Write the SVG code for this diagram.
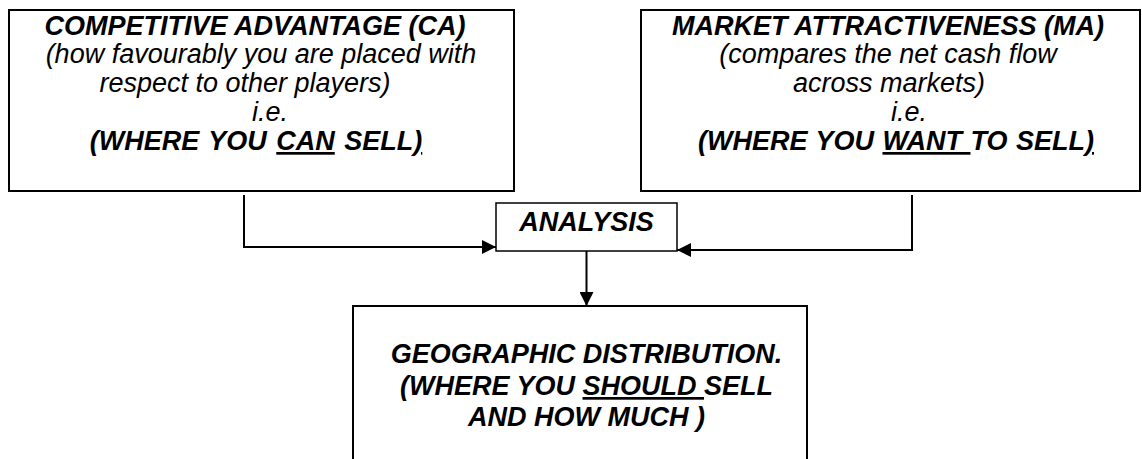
<svg xmlns="http://www.w3.org/2000/svg" width="1142" height="459" viewBox="0 0 1142 459">
  <style>
    .box { fill: #ffffff; stroke: #000000; stroke-width: 2; }
    .small { stroke-width: 1.5; }
    .title { font-family: "Liberation Sans", Arial, sans-serif; font-size: 27px; font-weight: bold; font-style: italic; fill: #000; text-anchor: middle; }
    .desc { font-family: "Liberation Sans", Arial, sans-serif; font-size: 27px; font-style: italic; fill: #000; text-anchor: middle; }
    .u { text-decoration: underline; text-decoration-thickness: 2px; text-underline-offset: 5px; }
    .link { fill: none; stroke: #000000; stroke-width: 2; }
  </style>
  <defs>
    <marker id="head" markerUnits="userSpaceOnUse" markerWidth="15" markerHeight="14" refX="14" refY="7" orient="auto">
      <path d="M0,0 L14,7 L0,14 Z" fill="#000000"/>
    </marker>
  </defs>

  <!-- Competitive advantage -->
  <g id="ca">
    <rect class="box" x="9" y="10" width="505" height="181"/>
    <text class="title" x="255" y="35">COMPETITIVE ADVANTAGE (CA)</text>
    <text class="desc" x="261" y="63">(how favourably you are placed with</text>
    <text class="desc" x="245" y="92">respect to other players)</text>
    <text class="desc" x="270" y="121">i.e.</text>
    <text class="title" x="256" y="150" word-spacing="2">(WHERE YOU <tspan class="u">CAN</tspan> SELL<tspan class="u">)</tspan></text>
  </g>

  <!-- Market attractiveness -->
  <g id="ma">
    <rect class="box" x="641" y="10" width="499" height="181"/>
    <text class="title" x="888" y="35">MARKET ATTRACTIVENESS (MA)</text>
    <text class="desc" x="888" y="63">(compares the net cash flow</text>
    <text class="desc" x="889" y="92">across markets)</text>
    <text class="desc" x="909" y="121">i.e.</text>
    <text class="title" x="896" y="150" word-spacing="1">(WHERE YOU <tspan class="u">WANT </tspan>TO SELL<tspan class="u">)</tspan></text>
  </g>

  <!-- Analysis -->
  <g id="analysis">
    <rect class="box small" x="496" y="203" width="181" height="48"/>
    <text class="title" x="586.5" y="231">ANALYSIS</text>
  </g>

  <!-- Geographic distribution -->
  <g id="geo">
    <rect class="box" x="353" y="306" width="454" height="170"/>
    <text class="title" x="586.5" y="363">GEOGRAPHIC DISTRIBUTION.</text>
    <text class="title" x="586.5" y="395">(WHERE YOU <tspan class="u">SHOULD </tspan>SELL</text>
    <text class="title" x="586.5" y="426">AND HOW MUCH )</text>
  </g>

  <!-- Connectors -->
  <g id="connectors">
    <path class="link" d="M244,195 V247 H496" marker-end="url(#head)"/>
    <path class="link" d="M912,195 V250 H677" marker-end="url(#head)"/>
    <path class="link" d="M586.5,251 V306" marker-end="url(#head)"/>
  </g>
</svg>
